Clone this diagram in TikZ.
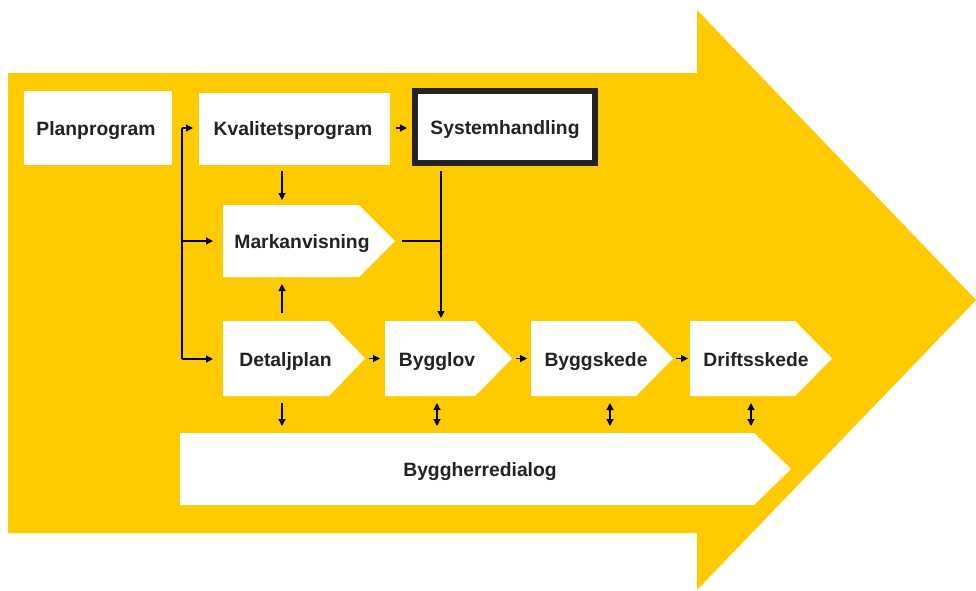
\documentclass[tikz,border=0pt]{standalone}
\usepackage{fontspec}
\setmainfont{Liberation Sans}
\usetikzlibrary{arrows.meta,calc}
\definecolor{ylw}{RGB}{253,203,0}
\definecolor{txt}{RGB}{34,34,34}
\tikzset{
  lbl/.style={font=\fontsize{19.3}{21}\selectfont\bfseries, text=txt, inner sep=0pt, text height=14pt, text depth=4pt, yshift=-2pt},
  area/.style={inner sep=0pt, outer sep=0pt, draw=none},
  conn/.style={line width=1.2pt, draw=black, -{Triangle[length=7pt,width=7pt]}},
  conntwo/.style={line width=1.2pt, draw=black, {Triangle[length=7pt,width=7pt]}-{Triangle[length=7pt,width=7pt]}},
  plain/.style={line width=1.2pt, draw=black},
}
\begin{document}
\begin{tikzpicture}[x=1pt,y=-1pt]
\useasboundingbox (0,0) rectangle (976,590);
% big arrow
\fill[ylw] (8,73) -- (697,73) -- (697,10) -- (976,300) -- (697,590) -- (697,533) -- (8,533) -- cycle;

% rectangles
\node[area, fill=white, minimum width=148pt, minimum height=74pt] (plan) at (98,128) {};
\node[lbl] (plant) at (96,128) {Planprogram};
\node[area, fill=white, minimum width=191pt, minimum height=72pt] (kval) at (294.5,129) {};
\node[lbl] (kvalt) at (293,128) {Kvalitetsprogram};
\node[inner sep=0pt, outer sep=3pt, fill=white, draw=txt, line width=6pt, minimum width=180pt, minimum height=72pt] (sys) at (505,127) {};
\node[lbl] (syst) at (505,127) {Systemhandling};

% pentagon shapes
\fill[white] (223,205) -- (359,205) -- (395,241) -- (359,277) -- (223,277) -- cycle;
\node[area, minimum width=172pt, minimum height=72pt] (mark) at (309,241) {};
\node[lbl] (markt) at (302,241) {Markanvisning};

\fill[white] (223,321) -- (329,321) -- (365,358.5) -- (329,396) -- (223,396) -- cycle;
\node[area, minimum width=142pt, minimum height=75pt] (detalj) at (294,358.5) {};
\node[lbl] (detaljt) at (285.5,359) {Detaljplan};

\fill[white] (385,321) -- (475,321) -- (512,358.5) -- (475,396) -- (385,396) -- cycle;
\node[area, minimum width=127pt, minimum height=75pt] (bygglov) at (448.5,358.5) {};
\node[lbl] (bygglovt) at (437,359) {Bygglov};

\fill[white] (531,321) -- (636,321) -- (673,358.5) -- (636,396) -- (531,396) -- cycle;
\node[area, minimum width=142pt, minimum height=75pt] (byggsk) at (602,358.5) {};
\node[lbl] (byggskt) at (596,359) {Byggskede};

\fill[white] (690,321) -- (795,321) -- (832,358.5) -- (795,396) -- (690,396) -- cycle;
\node[area, minimum width=142pt, minimum height=75pt] (drift) at (761,358.5) {};
\node[lbl] (driftt) at (756,359) {Driftsskede};

\fill[white] (180,433) -- (754,433) -- (791,469) -- (754,505) -- (180,505) -- cycle;
\node[area, minimum width=611pt, minimum height=72pt] (dialog) at (485.5,469) {};
\node[lbl] (dialogt) at (480,469) {Byggherredialog};

% helper coordinates
\coordinate (t1) at (182,128);
\coordinate (t2) at (182,241);
\coordinate (t3) at (182,359);
\coordinate (xa) at (282,0);
\coordinate (xs) at (441,0);
\coordinate (xb) at (437,0);
\coordinate (xc) at (610,0);
\coordinate (xd) at (751,0);

% trunk
\draw[plain] (t1) -- (t3);
\draw[conn, shorten >=6pt] (t1) -- (t1 -| kval.west);
\draw[conn, shorten >=10pt] (t2) -- (t2 -| mark.west);
\draw[conn, shorten >=10pt] (t3) -- (t3 -| detalj.west);

% top row
\draw[conn, shorten <=6pt, shorten >=5pt] (t1 -| kval.east) -- (t1 -| sys.west);
\draw[conn, shorten <=6pt, shorten >=5pt] (kval.south -| xa) -- (mark.north -| xa);
\draw[conn, shorten <=8pt, shorten >=7pt] (detalj.north -| xa) -- (mark.south -| xa);
\draw[conn, shorten <=5pt, shorten >=3pt] (sys.south -| xs) -- (bygglov.north -| xs);
\draw[plain, shorten <=7pt] (mark.east) -- (mark.east -| xs);

% row arrows
\draw[conn, shorten <=4pt, shorten >=5pt] (detalj.east) -- (bygglov.west);
\draw[conn, shorten <=4pt, shorten >=4pt] (bygglov.east) -- (byggsk.west);
\draw[conn, shorten <=3pt, shorten >=2pt] (byggsk.east) -- (drift.west);

% to dialog
\draw[conn, shorten <=7pt, shorten >=7pt] (detalj.south -| xa) -- (dialog.north -| xa);
\draw[conntwo, shorten <=7pt, shorten >=7pt] (bygglov.south -| xb) -- (dialog.north -| xb);
\draw[conntwo, shorten <=7pt, shorten >=7pt] (byggsk.south -| xc) -- (dialog.north -| xc);
\draw[conntwo, shorten <=7pt, shorten >=7pt] (drift.south -| xd) -- (dialog.north -| xd);
\end{tikzpicture}
\end{document}
